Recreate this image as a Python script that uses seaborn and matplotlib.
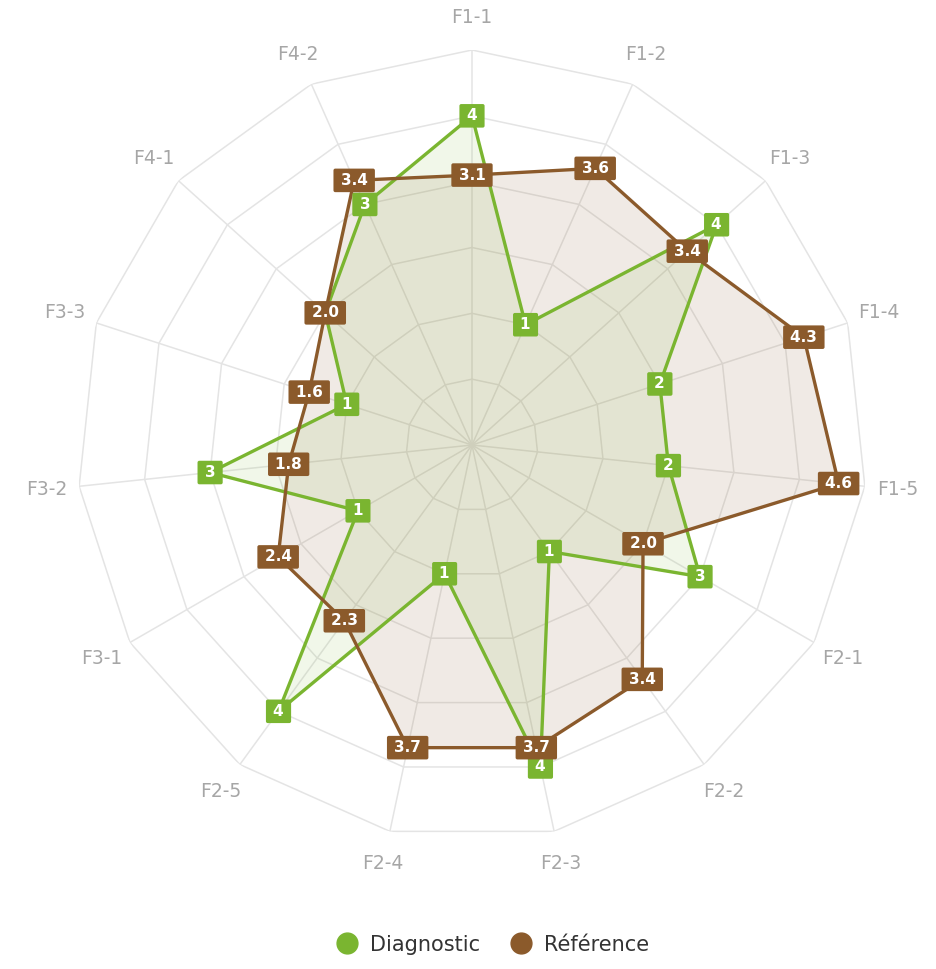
import numpy as np
import pandas as pd
import matplotlib
matplotlib.use("Agg")
import matplotlib.pyplot as plt
import seaborn as sns
from matplotlib.lines import Line2D

# ---- data ----
categories = ["F1-1", "F1-2", "F1-3", "F1-4", "F1-5", "F2-1", "F2-2", "F2-3",
              "F2-4", "F2-5", "F3-1", "F3-2", "F3-3", "F4-1", "F4-2"]
diagnostic = [4, 1, 4, 2, 2, 3, 1, 4, 1, 4, 1, 3, 1, 2, 3]
reference = [3.1, 3.6, 3.4, 4.3, 4.6, 2.0, 3.4, 3.7, 3.7, 2.3, 2.4, 1.8, 1.6, 2.0, 3.4]
series_names = ["Diagnostic", "Référence"]
grid_levels = [0, 1, 2, 3, 4, 5]
r_min, r_max = -1, 5

GREEN = "#7ab530"
BROWN = "#8b5a2b"
GRID = "#e4e4e4"

sns.set_theme(style="white")
plt.rcParams['font.family'] = ['DejaVu Sans']

fig = plt.figure(figsize=(9.36, 9.69), dpi=100)
ax = fig.add_axes([77 / 936, 129 / 969, 790 / 936, 790 / 969], projection='polar')
ax.set_theta_offset(np.pi / 2)
ax.set_theta_direction(-1)
ax.set_ylim(r_min, r_max)
ax.grid(False)
ax.spines['polar'].set_visible(False)
ax.set_facecolor('none')

n = len(categories)
theta = np.linspace(0, 2 * np.pi, n, endpoint=False)
theta_closed = np.append(theta, theta[0])

# polygon grid
for lvl in grid_levels:
    ax.plot(theta_closed, [lvl] * (n + 1), color=GRID, lw=1.1, zorder=1)
for t in theta:
    ax.plot([t, t], [r_min, r_max], color=GRID, lw=1.1, zorder=1)

diag_closed = diagnostic + diagnostic[:1]
ref_closed = reference + reference[:1]

df = pd.DataFrame({
    "theta": np.concatenate([theta_closed, theta_closed]),
    "value": diag_closed + ref_closed,
    "series": [series_names[0]] * (n + 1) + [series_names[1]] * (n + 1),
})

# fills
ax.fill(theta_closed, ref_closed, color=BROWN, alpha=0.12, lw=0, zorder=2)
ax.fill(theta_closed, diag_closed, color=GREEN, alpha=0.10, lw=0, zorder=2)

sns.lineplot(data=df, x="theta", y="value", hue="series",
             palette=[GREEN, BROWN], sort=False, estimator=None,
             lw=2.4, legend=False, ax=ax, zorder=3)
ax.set_xlabel("")
ax.set_ylabel("")
ax.set_xticks([])
ax.set_yticks([])
ax.set_ylim(r_min, r_max)

box = 'round,pad=0.28,rounding_size=0.12'
# data labels (a diagnostic label sitting exactly under a reference label is hidden, as in the reference)
for t, v, rv in zip(theta, diagnostic, reference):
    if abs(v - rv) < 1e-9:
        continue
    ax.text(t, v, "\u2009%d\u2009" % v, ha='center', va='center', color='white',
            fontsize=11, fontweight='bold', zorder=5,
            bbox=dict(boxstyle=box, fc=GREEN, ec='none'))
for t, v in zip(theta, reference):
    ax.text(t, v, "\u2009%.1f\u2009" % v, ha='center', va='center', color='white',
            fontsize=11, fontweight='bold', zorder=6,
            bbox=dict(boxstyle=box, fc=BROWN, ec='none'))

# category labels
for t, c in zip(theta, categories):
    ax.text(t, 5.5, c, ha='center', va='center', color='#a6a6a6',
            fontsize=13.5, clip_on=False)

handles = [Line2D([], [], marker='o', ls='', markersize=15,
                  markerfacecolor=col, markeredgecolor=col) for col in (GREEN, BROWN)]
fig.legend(handles, series_names, loc='center', bbox_to_anchor=(0.521, 0.025),
           ncol=2, frameon=False, fontsize=15, handletextpad=0.1,
           columnspacing=1.0, labelcolor='#333333')

fig.savefig("out.png", dpi=100)
